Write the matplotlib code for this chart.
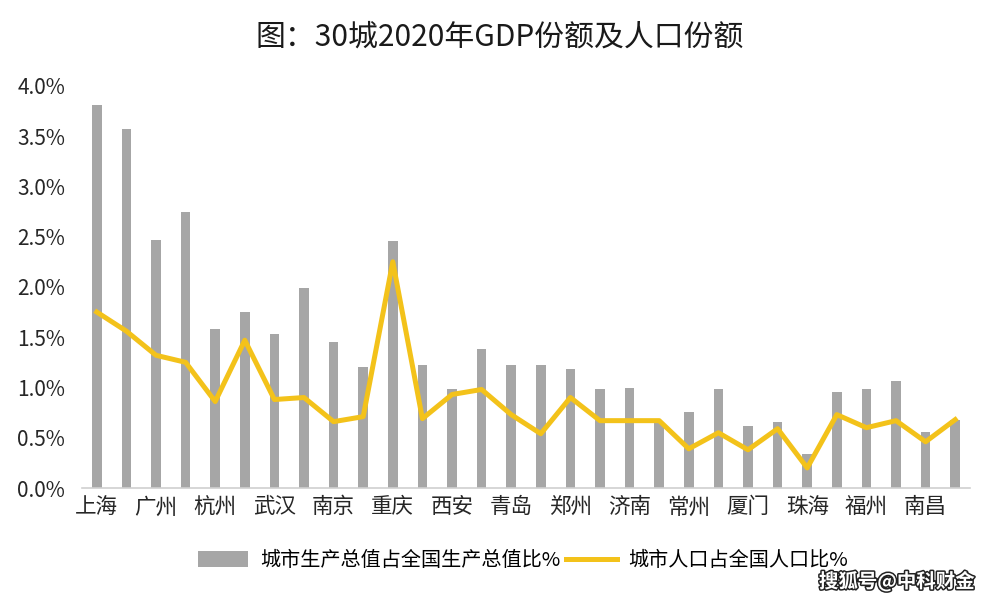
import matplotlib as mpl
mpl.use('Agg')
import matplotlib.pyplot as plt
import matplotlib.patheffects as pe
import numpy as np

plt.rcParams['font.family'] = ['Noto Sans CJK SC', 'DejaVu Sans']

# --- data (%)
cities = ['上海', '北京', '广州', '深圳', '杭州', '成都', '武汉', '苏州', '南京', '天津',
          '重庆', '宁波', '西安', '无锡', '青岛', '长沙', '郑州', '佛山', '济南', '合肥',
          '常州', '东莞', '厦门', '泉州', '珠海', '南通', '福州', '烟台', '南昌', '温州']

gdp_share = [3.81, 3.57, 2.47, 2.74, 1.58, 1.75, 1.53, 1.99, 1.45, 1.20,
             2.46, 1.22, 0.98, 1.38, 1.22, 1.22, 1.18, 0.98, 0.99, 0.66,
             0.76, 0.98, 0.62, 0.66, 0.34, 0.95, 0.98, 1.06, 0.56, 0.68]

pop_share = [1.75, 1.56, 1.32, 1.25, 0.86, 1.47, 0.88, 0.90, 0.66, 0.71,
             2.25, 0.69, 0.93, 0.98, 0.73, 0.54, 0.90, 0.67, 0.67, 0.67,
             0.39, 0.55, 0.38, 0.59, 0.20, 0.73, 0.60, 0.67, 0.46, 0.68]

yticks = [0.0, 0.5, 1.0, 1.5, 2.0, 2.5, 3.0, 3.5, 4.0]

label_step = 2  # only every other city name is shown

# ----------------------------------------------------------------------
fig = plt.figure(figsize=(10, 6.04), dpi=100)
ax = fig.add_axes([0.082, 0.192, 0.888, 0.666])

x = np.arange(len(cities))

bars = ax.bar(x, gdp_share, width=0.33, color='#a6a6a6', zorder=2)
line, = ax.plot(x, pop_share, color='#f3c21a', lw=3.6, solid_joinstyle='round', zorder=3)

ax.set_xlim(-0.5, len(cities) - 0.5)
ax.set_ylim(0, 4.0)

ax.set_yticks(yticks)
ax.set_yticklabels([f'{v:.1f}%' for v in yticks], fontsize=15, color='#262626')
ax.set_xticks(x[::label_step])
ax.set_xticklabels(cities[::label_step], fontsize=15.5, color='#262626')

for s in ['top', 'right', 'left']:
    ax.spines[s].set_visible(False)
ax.spines['bottom'].set_color('#d0d0d0')
ax.spines['bottom'].set_linewidth(1.2)
ax.tick_params(length=0, pad=6)
ax.tick_params(axis='y', pad=12)

fig.suptitle('图：30城2020年GDP份额及人口份额', fontsize=21.5, y=0.965, color='#1a1a1a')

fig.legend([bars, line], ['城市生产总值占全国生产总值比%', '城市人口占全国人口比%'],
           loc='center', bbox_to_anchor=(0.523, 0.072), ncol=2, frameon=False,
           fontsize=14.5, handlelength=2.5, handleheight=0.8,
           columnspacing=0.3, handletextpad=0.6)

fig.text(0.897, 0.037, '搜狐号@中科财金', fontsize=14, ha='center', va='center',
         color='white', fontweight='bold',
         path_effects=[pe.withStroke(linewidth=2.2, foreground='#222222')])

fig.savefig('out.png', dpi=100, facecolor='white')
